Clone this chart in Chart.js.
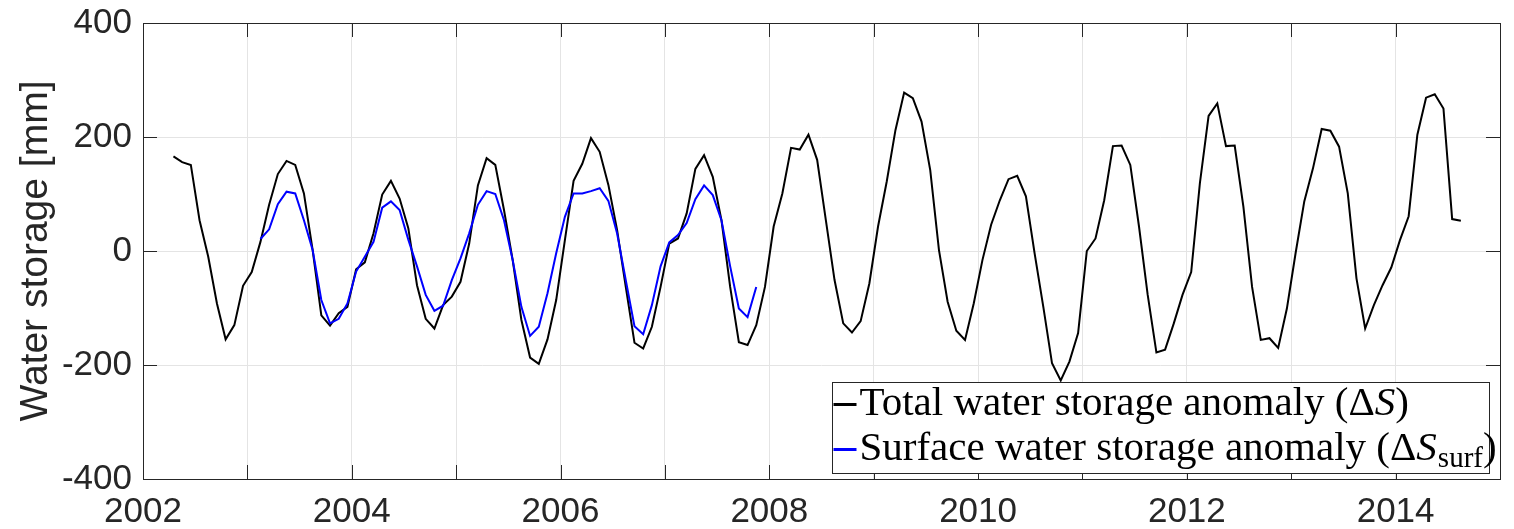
<!DOCTYPE html>
<html>
<head>
<meta charset="utf-8">
<script src="https://cdn.jsdelivr.net/npm/chart.js@4.4.1/dist/chart.umd.min.js"></script>
<style>
  html, body { margin: 0; padding: 0; background: #fff; }
</style>
</head>
<body>
<canvas id="graph_storage" width="1514" height="529"></canvas>
<script>
// monthly series, first value = April 2002
const firstYear = 2002
const firstMonth = 4

// total water storage anomaly [mm], Apr 2002 .. Aug 2014
const totalStorage = [
  166, 156, 151, 54, -10, -92, -155, -130, -61, -37,
  16, 81, 135, 158, 151, 101, 2, -113, -131, -109,
  -98, -32, -20, 31, 99, 123, 92, 40, -60, -119,
  -136, -95, -80, -54, 13, 115, 163, 151, 72, -16,
  -121, -187, -198, -155, -86, 19, 123, 153, 198, 174,
  116, 37, -63, -161, -171, -133, -63, 13, 22, 66,
  144, 168, 130, 54, -63, -160, -165, -130, -63, 43,
  101, 181, 178, 204, 160, 54, -51, -127, -143, -123,
  -57, 43, 122, 212, 278, 268, 227, 142, 2, -89,
  -140, -156, -92, -16, 46, 89, 126, 132, 96, -4,
  -98, -197, -227, -194, -144, 0, 22, 89, 184, 185,
  151, 43, -77, -178, -173, -127, -77, -37, 119, 237,
  259, 184, 185, 78, -63, -156, -153, -170, -101, -4,
  87, 145, 214, 211, 183, 101, -48, -136, -95, -60,
  -29, 19, 61, 204, 269, 275, 250, 56, 53
]

// surface water storage anomaly [mm], starts at month index 10 (Feb 2003)
const surfaceStart = 10
const surfaceStorage = [
  21, 38, 82, 104, 101, 54, 2, -86, -127, -119,
  -92, -36, -10, 16, 76, 87, 72, 20, -27, -77,
  -105, -96, -51, -13, 31, 81, 105, 100, 54, -16,
  -98, -149, -133, -74, -4, 60, 101, 101, 105, 110,
  88, 31, -51, -132, -146, -95, -27, 15, 28, 49,
  91, 115, 98, 54, -27, -101, -116, -63
]

const seriesNames = ['Total water storage anomaly', 'Surface water storage anomaly']
const yTitle = 'Water storage [mm]'
const xRange = [2002, 2015]
const yRange = [-400, 400]

function monthToYear(i) {
  return firstYear + (firstMonth - 1 + i + 0.5) / 12
}

const totalPoints = totalStorage.map((v, i) => ({x: monthToYear(i), y: v}))
const surfacePoints = surfaceStorage.map((v, i) => ({x: monthToYear(surfaceStart + i), y: v}))

const axisColor = '#262626'
const gridColor = '#e4e4e4'

// MATLAB style box with inward ticks on all four sides
const boxPlugin = {
  id: 'axesBox',
  afterDatasetsDraw(chart) {
    const ctx = chart.ctx
    const a = chart.chartArea
    const xs = chart.scales.x, ys = chart.scales.y
    const len = 14
    ctx.save()
    ctx.strokeStyle = axisColor
    ctx.lineWidth = 1
    ctx.beginPath()
    xs.ticks.forEach(t => {
      const px = Math.round(xs.getPixelForValue(t.value)) + 0.5
      ctx.moveTo(px, a.bottom); ctx.lineTo(px, a.bottom - len)
      ctx.moveTo(px, a.top); ctx.lineTo(px, a.top + len)
    })
    ys.ticks.forEach(t => {
      const py = Math.round(ys.getPixelForValue(t.value)) + 0.5
      ctx.moveTo(a.left, py); ctx.lineTo(a.left + len, py)
      ctx.moveTo(a.right, py); ctx.lineTo(a.right - len, py)
    })
    ctx.stroke()
    ctx.strokeRect(Math.round(a.left) + 0.5, Math.round(a.top) + 0.5,
      Math.round(a.right - a.left), Math.round(a.bottom - a.top))
    ctx.restore()
  }
}

// legend drawn by hand, LaTeX like text with Delta, italic S and subscript
const legendPlugin = {
  id: 'texLegend',
  afterDraw(chart) {
    const ctx = chart.ctx
    const a = chart.chartArea
    const w = 657, h = 91
    const left = Math.round(a.right - 11 - w) + 0.5
    const top = Math.round(a.bottom - 6 - h) + 0.5
    const fs = 41
    const serif = '"Liberation Serif", "Times New Roman", serif'
    ctx.save()
    ctx.fillStyle = '#fff'
    ctx.fillRect(left, top, w, h)
    ctx.strokeStyle = axisColor
    ctx.lineWidth = 1
    ctx.strokeRect(left, top, w, h)

    const rows = [
      {color: '#000000', text: seriesNames[0], sub: null, lineY: 22, baseY: 32},
      {color: '#0000ff', text: seriesNames[1], sub: 'surf', lineY: 67, baseY: 77}
    ]
    rows.forEach(r => {
      ctx.strokeStyle = r.color
      ctx.lineWidth = 3
      ctx.beginPath()
      ctx.moveTo(left + 1, top + r.lineY)
      ctx.lineTo(left + 24, top + r.lineY)
      ctx.stroke()

      let x = left + 27
      const y = top + r.baseY
      ctx.fillStyle = '#000'
      ctx.textBaseline = 'alphabetic'
      ctx.textAlign = 'left'
      const put = (s, font, dy) => {
        ctx.font = font
        ctx.fillText(s, x, y + (dy || 0))
        x += ctx.measureText(s).width
      }
      put(r.text + ' (\u0394', fs + 'px ' + serif)
      put('S', 'italic ' + fs + 'px ' + serif)
      if (r.sub) {
        x += 1
        put(r.sub, Math.round(fs * 0.7) + 'px ' + serif, 7)
      }
      put(')', fs + 'px ' + serif)
    })
    ctx.restore()
  }
}

const ctx = document.getElementById('graph_storage')

new Chart(ctx, {
  type: 'line',
  data: {
    datasets: [{
      label: seriesNames[0],
      data: totalPoints,
      borderColor: '#000000',
      backgroundColor: '#000000',
      borderWidth: 2,
      pointRadius: 0,
      tension: 0,
      order: 2
    },
    {
      label: seriesNames[1],
      data: surfacePoints,
      borderColor: '#0000ff',
      backgroundColor: '#0000ff',
      borderWidth: 2,
      pointRadius: 0,
      tension: 0,
      order: 1
    }]
  },
  options: {
    responsive: false,
    devicePixelRatio: 1,
    animation: false,
    layout: { padding: { top: 23, right: 14, left: 0, bottom: 0 } },
    plugins: {
      legend: { display: false },
      tooltip: { enabled: false }
    },
    scales: {
      x: {
        type: 'linear',
        min: xRange[0],
        max: xRange[1],
        afterFit: s => { s.height = 50 },
        ticks: {
          stepSize: 1,
          autoSkip: false,
          maxRotation: 0,
          padding: 12,
          color: axisColor,
          font: { family: '"Liberation Sans", Arial, sans-serif', size: 35 },
          callback: v => (v % 2 === 0 && v < xRange[1]) ? String(v) : ''
        },
        grid: { color: gridColor, drawTicks: false },
        border: { display: false }
      },
      y: {
        min: yRange[0],
        max: yRange[1],
        afterFit: s => {
          s.width = 143
          s.paddingTop = 0
          s.paddingBottom = 0
        },
        ticks: {
          stepSize: 200,
          padding: 11,
          color: axisColor,
          font: { family: '"Liberation Sans", Arial, sans-serif', size: 35 }
        },
        grid: { color: gridColor, drawTicks: false },
        border: { display: false },
        title: {
          display: true,
          text: yTitle,
          color: axisColor,
          padding: { top: 13, bottom: 0 },
          font: { family: '"Liberation Sans", Arial, sans-serif', size: 39 }
        }
      }
    }
  },
  plugins: [boxPlugin, legendPlugin]
})
</script>
</body>
</html>
